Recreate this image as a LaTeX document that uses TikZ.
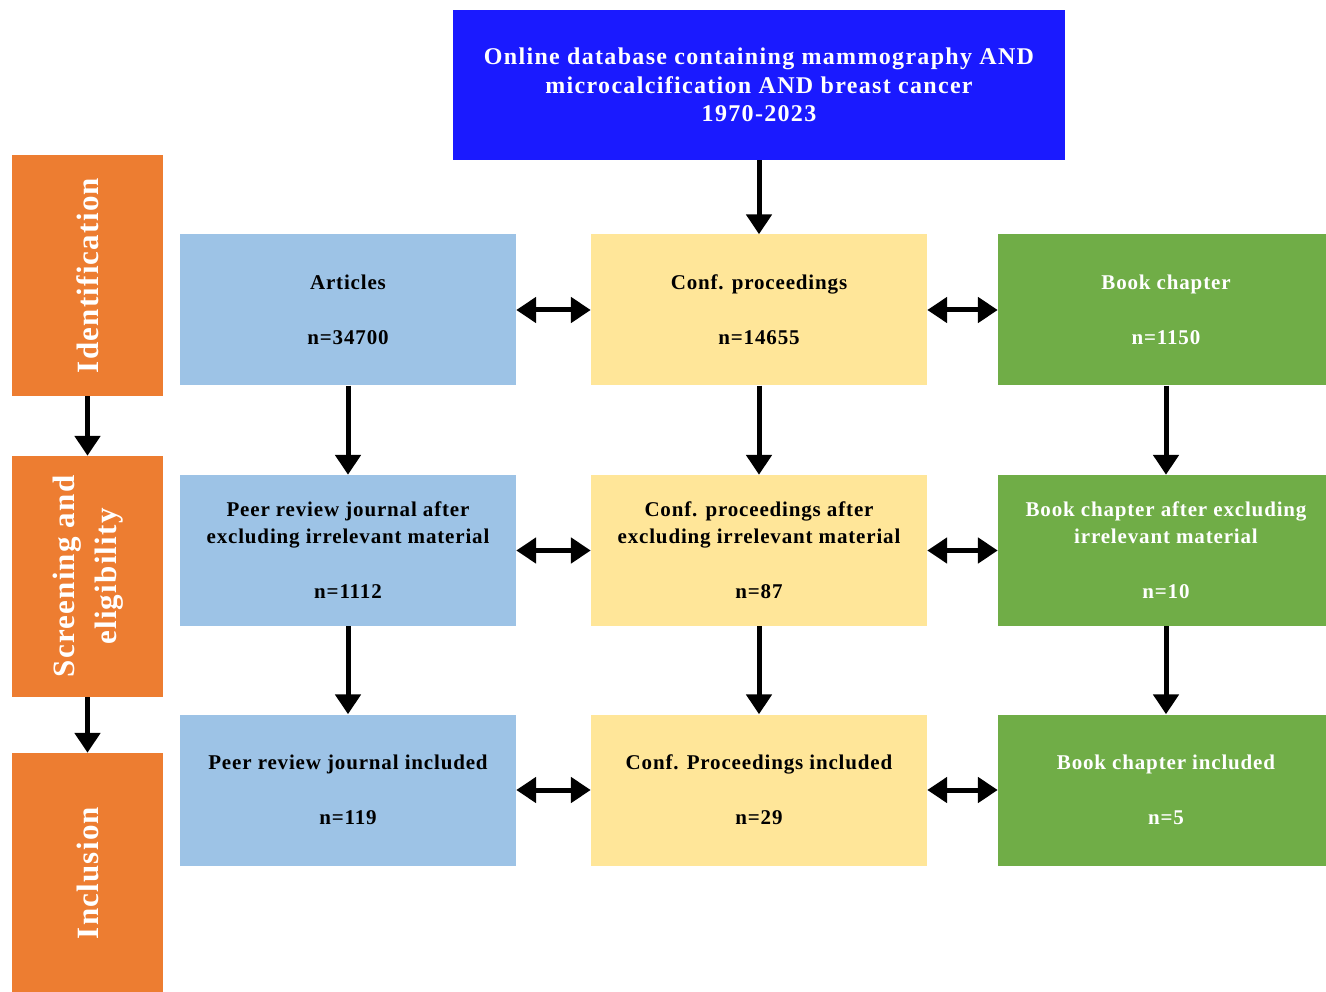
\documentclass[tikz,border=0pt]{standalone}
\usepackage{fontspec}
\setmainfont{Liberation Serif}[LetterSpace=4]
\usetikzlibrary{arrows.meta}
\definecolor{topblue}{RGB}{26,26,255}
\definecolor{lblue}{RGB}{157,195,230}
\definecolor{lyellow}{RGB}{255,230,153}
\definecolor{lgreen}{RGB}{112,173,71}
\definecolor{sorange}{RGB}{237,125,49}
\tikzset{
  box/.style={rectangle, inner sep=0pt, minimum width=336pt, minimum height=151pt, align=center,
    font=\fontsize{21}{27}\selectfont\bfseries},
  bluebox/.style={box, fill=lblue, text=black},
  yellowbox/.style={box, fill=lyellow, text=black},
  greenbox/.style={box, fill=lgreen, text=white},
  sidebox/.style={rectangle, inner sep=0pt, fill=sorange, minimum width=151pt, text=white,
    align=center, font=\fontsize{31}{42}\selectfont\bfseries},
  varrow/.style={line width=5pt, -{Triangle[width=25pt,length=20pt]}},
  harrow/.style={line width=5pt, {Triangle[width=25pt,length=20pt]}-{Triangle[width=25pt,length=20pt]}},
}
\begin{document}
\begin{tikzpicture}[x=1pt,y=-1pt]
\useasboundingbox (0,0) rectangle (1326,992);
% top box
\node[rectangle, fill=topblue, text=white, minimum width=612pt, minimum height=150pt, inner sep=0pt,
  align=center, font=\fontsize{24}{28.5}\selectfont\bfseries\addfontfeature{LetterSpace=5.5}] (top) at (759,85)
  {Online database containing mammography AND\\microcalcification AND breast cancer\\1970-2023};
% side boxes
\node[sidebox, minimum height=241pt] (s1) at (87.5,275.5) {\rotatebox{90}{Identification}};
\node[sidebox, minimum height=241pt] (s2) at (87.5,576.5) {\rotatebox{90}{\begin{tabular}{@{}c@{}}Screening and\\eligibility\end{tabular}}};
\node[sidebox, minimum height=240pt] (s3) at (87.5,873) {\rotatebox{90}{Inclusion}};
% row 1
\node[bluebox] (a1) at (348,310) {Articles\\[28pt]n=34700};
\node[yellowbox] (b1) at (759,310) {Conf. proceedings\\[28pt]n=14655};
\node[greenbox] (c1) at (1166,310) {Book chapter\\[28pt]n=1150};
% row 2
\node[bluebox] (a2) at (348,550.5) {Peer review journal after\\excluding irrelevant material\\[28pt]n=1112};
\node[yellowbox] (b2) at (759,550.5) {Conf. proceedings after\\excluding irrelevant material\\[28pt]n=87};
\node[greenbox] (c2) at (1166,550.5) {Book chapter after excluding\\irrelevant material\\[28pt]n=10};
% row 3
\node[bluebox] (a3) at (348,790) {Peer review journal included\\[28pt]n=119};
\node[yellowbox] (b3) at (759,790) {Conf. Proceedings included\\[28pt]n=29};
\node[greenbox] (c3) at (1166,790) {Book chapter included\\[28pt]n=5};
% vertical arrows
\draw[varrow] (top.south) -- (b1.north);
\draw[varrow] (a1.south) -- (a2.north);
\draw[varrow] (b1.south) -- (b2.north);
\draw[varrow] (c1.south) -- (c2.north);
\draw[varrow] (a2.south) -- (a3.north);
\draw[varrow] (b2.south) -- (b3.north);
\draw[varrow] (c2.south) -- (c3.north);
\draw[varrow] (s1.south) -- (s2.north);
\draw[varrow] (s2.south) -- (s3.north);
% horizontal double arrows
\draw[harrow] (a1.east) -- (b1.west);
\draw[harrow] (b1.east) -- (c1.west);
\draw[harrow] (a2.east) -- (b2.west);
\draw[harrow] (b2.east) -- (c2.west);
\draw[harrow] (a3.east) -- (b3.west);
\draw[harrow] (b3.east) -- (c3.west);
\end{tikzpicture}
\end{document}
